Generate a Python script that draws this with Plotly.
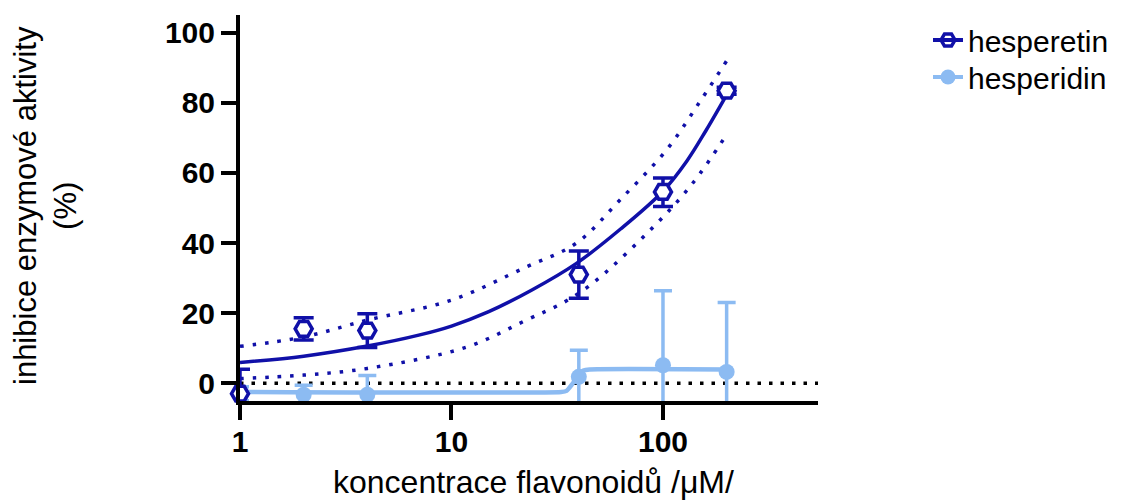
import plotly.graph_objects as go

# ---------------- data ----------------
conc = [1, 2, 4, 40, 100, 200]

hesperetin_y = [-3.0, 15.5, 15.0, 31.0, 54.6, 83.5]
hesperetin_err_plus = [7.0, 3.2, 4.8, 6.7, 4.0, 1.0]
hesperetin_err_minus = [7.0, 3.2, 4.8, 6.8, 4.2, 1.0]

hesperidin_y = [-3.0, -3.3, -3.3, 1.8, 5.1, 3.2]
hesperidin_err = [2.0, 2.7, 5.5, 7.6, 21.3, 19.8]

# fitted curve (hesperetin)
fit1_x = [1, 2, 4, 7, 10, 15, 24, 39, 63, 100, 130, 160, 200]
fit1_y = [5.9, 7.7, 10.6, 13.7, 16.3, 20.4, 26.6, 34.2, 44.0, 54.8, 63.5, 72.2, 82.3]

# confidence band (hesperetin)
band_up_x = [1, 2, 4, 10, 22.6, 39, 62.6, 104, 150, 200]
band_up_y = [10.5, 13.2, 18.0, 23.7, 33.2, 40.0, 52.3, 66.6, 80.5, 92.0]
band_lo_x = [1, 2, 4, 11.8, 22.6, 35, 48.5, 97, 140, 200]
band_lo_y = [1.3, 2.3, 4.2, 10.3, 18.0, 23.5, 29.4, 46.6, 57.5, 71.0]

# fitted curve (hesperidin)
fit2_x = [1, 33, 35, 37, 38.5, 40, 42, 45, 200]
fit2_y = [-2.5, -2.5, -2.2, -0.5, 1.0, 2.6, 3.6, 3.9, 3.9]

x_ticks = [1, 10, 100]
x_ticklabels = ["1", "10", "100"]
y_ticks = [0, 20, 40, 60, 80, 100]

series_names = ["hesperetin", "hesperidin"]

DARK = "#1010A8"
LIGHT = "#8CBBF2"
FONT = "Liberation Sans, Arial, Helvetica, sans-serif"

# page has an 8px body margin; plot area target on page: x 240..818, y 15..401
OFF = 8
L, R, T, B = 240 - OFF, 1122 - (818 - OFF), 15 - OFF, 501 - (401 - OFF)


def px_x(p):  # page pixel -> paper x
    return (p - 240) / 578


def px_y(p):  # page pixel -> paper y
    return (401 - p) / 386


fig = go.Figure()

# ---- hesperidin ----
fig.add_trace(go.Scatter(x=fit2_x, y=fit2_y, mode="lines",
                         line=dict(color=LIGHT, width=4.5, shape="spline", smoothing=0.6),
                         showlegend=False, hoverinfo="skip"))
fig.add_trace(go.Scatter(x=conc, y=hesperidin_y, mode="markers",
                         marker=dict(color="rgba(0,0,0,0)", size=1),
                         error_y=dict(type="data", array=hesperidin_err, symmetric=True,
                                      color=LIGHT, thickness=3.5, width=9),
                         cliponaxis=True, showlegend=False, hoverinfo="skip"))
fig.add_trace(go.Scatter(x=conc, y=hesperidin_y, mode="markers",
                         marker=dict(color=LIGHT, size=16, symbol="circle"),
                         cliponaxis=False, showlegend=False))

# ---- hesperetin ----
fig.add_trace(go.Scatter(x=band_up_x, y=band_up_y, mode="lines",
                         line=dict(color=DARK, width=3.5, dash="3.5px,9px", shape="spline"),
                         showlegend=False, hoverinfo="skip"))
fig.add_trace(go.Scatter(x=band_lo_x, y=band_lo_y, mode="lines",
                         line=dict(color=DARK, width=3.5, dash="3.5px,9px", shape="spline"),
                         showlegend=False, hoverinfo="skip"))
fig.add_trace(go.Scatter(x=fit1_x, y=fit1_y, mode="lines",
                         line=dict(color=DARK, width=3.5, shape="spline"),
                         showlegend=False, hoverinfo="skip"))
fig.add_trace(go.Scatter(x=conc, y=hesperetin_y, mode="markers",
                         marker=dict(color="rgba(0,0,0,0)", size=1),
                         error_y=dict(type="data", array=hesperetin_err_plus,
                                      arrayminus=hesperetin_err_minus, symmetric=False,
                                      color=DARK, thickness=3.5, width=10),
                         cliponaxis=True, showlegend=False, hoverinfo="skip"))
fig.add_trace(go.Scatter(x=conc, y=hesperetin_y, mode="markers",
                         marker=dict(color="white", size=17, symbol="hexagon2",
                                     line=dict(color=DARK, width=3.5)),
                         cliponaxis=False, showlegend=False))

# ---- legend entries (one legend each, to control spacing) ----
fig.add_trace(go.Scatter(x=[None], y=[None], mode="lines+markers", name=series_names[0],
                         line=dict(color=DARK, width=4), legend="legend",
                         marker=dict(symbol="hexagon2-open", size=14, color=DARK,
                                     line=dict(color=DARK, width=3.5))))
fig.add_trace(go.Scatter(x=[None], y=[None], mode="lines+markers", name=series_names[1],
                         line=dict(color=LIGHT, width=4), legend="legend2",
                         marker=dict(symbol="circle", size=15, color=LIGHT)))

# zero dotted line
fig.add_shape(type="line", xref="x domain", yref="y", x0=0, x1=1, y0=0, y1=0,
              line=dict(color="black", width=3.5, dash="3.5px,8px"), layer="below")

legend_common = dict(xanchor="left", yanchor="top",
                     font=dict(size=30, family=FONT, color="black"),
                     bgcolor="rgba(0,0,0,0)", itemwidth=30)

fig.update_layout(
    width=1122, height=501,
    margin=dict(l=L, r=R, t=T, b=B, autoexpand=False),
    paper_bgcolor="white", plot_bgcolor="white",
    font=dict(family=FONT, size=30, color="black"),
    legend=dict(x=px_x(928), y=px_y(14), **legend_common),
    legend2=dict(x=px_x(928), y=px_y(51), **legend_common),
    xaxis=dict(type="log", range=[0, 2.733], showline=True, linecolor="black", linewidth=4,
               ticks="outside", ticklen=15, tickwidth=4, tickcolor="black",
               tickvals=x_ticks, ticktext=x_ticklabels, showgrid=False, zeroline=False,
               ticklabelstandoff=-4, automargin=False,
               tickfont=dict(family=FONT, size=30, color="black", weight="bold")),
    yaxis=dict(range=[-5.1, 105.1], showline=True, linecolor="black", linewidth=4,
               ticks="outside", ticklen=15, tickwidth=4, tickcolor="black",
               tickvals=y_ticks, showgrid=False, zeroline=False, automargin=False,
               tickfont=dict(family=FONT, size=30, color="black", weight="bold")),
    annotations=[
        dict(text="inhibice enzymové aktivity<br>(%)", textangle=-90,
             xref="paper", yref="paper", x=px_x(45), y=px_y(206),
             xanchor="center", yanchor="middle", showarrow=False,
             font=dict(family=FONT, size=31, color="black")),
        dict(text="koncentrace flavonoidů /μM/",
             xref="paper", yref="paper", x=px_x(533), y=px_y(482),
             xanchor="center", yanchor="middle", showarrow=False,
             font=dict(family=FONT, size=32, color="black")),
    ],
)

fig.write_html("out.html")
